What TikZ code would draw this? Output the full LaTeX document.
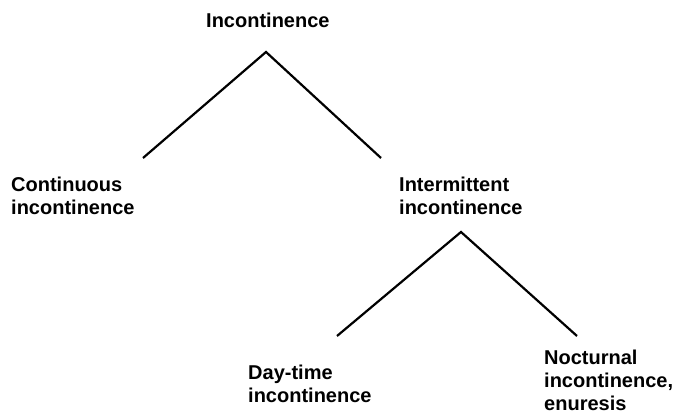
\documentclass[tikz,border=0pt]{standalone}
\usepackage{fontspec}
\setmainfont{Liberation Sans}
\begin{document}
\begin{tikzpicture}[x=1pt,y=-1pt,
  lbl/.style={anchor=north west,inner sep=0pt,align=left,font=\bfseries\fontsize{20}{23}\selectfont},
  branch/.style={line width=2.2pt,line cap=butt,line join=miter}]
\useasboundingbox[fill=white] (0,0) rectangle (677,414);
\node[lbl] (root) at (206,13) {Incontinence};
\node[lbl] (cont) at (11,177) {Continuous\\incontinence};
\node[lbl] (inter) at (399,177) {Intermittent\\incontinence};
\node[lbl] (day) at (248,365) {Day-time\\incontinence};
\node[lbl] (noct) at (544,350) {Nocturnal\\incontinence,\\enuresis};
\coordinate (a1) at (266,52);
\coordinate (l1) at (143,158);
\coordinate (r1) at (381,158);
\coordinate (a2) at (461,232);
\coordinate (l2) at (337,336);
\coordinate (r2) at (577,336);
\draw[branch] (l1) -- (a1) -- (r1);
\draw[branch] (l2) -- (a2) -- (r2);
\end{tikzpicture}
\end{document}
